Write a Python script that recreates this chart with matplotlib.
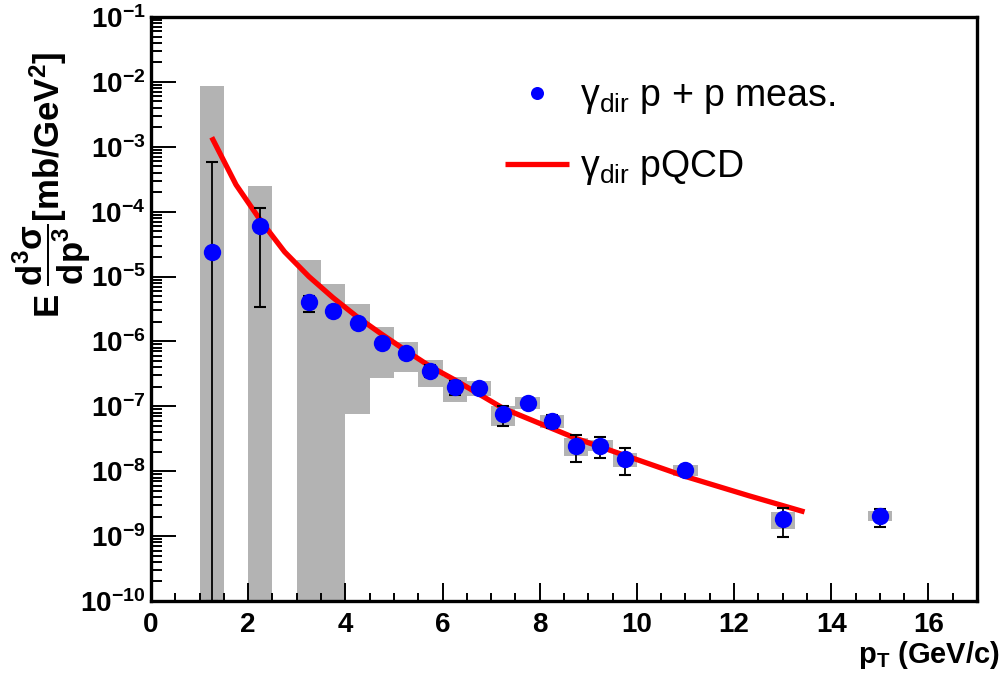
import numpy as np
import matplotlib
matplotlib.use('Agg')
import matplotlib.pyplot as plt
from matplotlib.ticker import MultipleLocator, LogLocator, FuncFormatter, NullFormatter, FixedLocator

# ---------------- data ----------------
pt = [1.25, 2.25, 3.25, 3.75, 4.25, 4.75, 5.25, 5.75, 6.25, 6.75,
      7.25, 7.75, 8.25, 8.75, 9.25, 9.75, 11.0, 13.0, 15.0]
yield_meas = [2.4e-5, 6.0e-5, 4.0e-6, 2.95e-6, 1.9e-6, 9.3e-7, 6.6e-7, 3.5e-7, 1.96e-7, 1.95e-7,
              7.6e-8, 1.14e-7, 5.95e-8, 2.45e-8, 2.48e-8, 1.55e-8, 1.03e-8, 1.84e-9, 2.03e-9]
stat_hi = [5.9e-4, 1.15e-4, 5.1e-6, 3.2e-6, 2.1e-6, 1.0e-6, 7.2e-7, 4.4e-7, 2.5e-7, 2.2e-7,
           1.0e-7, 1.3e-7, 7.3e-8, 3.6e-8, 3.4e-8, 2.24e-8, 1.15e-8, 2.7e-9, 2.65e-9]
stat_lo = [1e-10, 3.4e-6, 2.8e-6, 2.7e-6, 1.7e-6, 8.5e-7, 6.0e-7, 2.84e-7, 1.48e-7, 1.7e-7,
           5.0e-8, 1.0e-7, 4.6e-8, 1.39e-8, 1.62e-8, 8.9e-9, 9.2e-9, 9.8e-10, 1.4e-9]
sys_lo = [1e-10, 1e-10, 1e-10, 1e-10, 7.5e-8, 2.7e-7, 3.4e-7, 2.0e-7, 1.17e-7, 1.46e-7,
          4.9e-8, 9.2e-8, 4.7e-8, 1.74e-8, 2.04e-8, 1.17e-8, 8.3e-9, 1.3e-9, 1.74e-9]
sys_hi = [8.7e-3, 2.5e-4, 1.8e-5, 7.7e-6, 3.8e-6, 1.67e-6, 9.8e-7, 5.2e-7, 2.8e-7, 2.45e-7,
          1.03e-7, 1.4e-7, 7.4e-8, 3.2e-8, 3.0e-8, 1.9e-8, 1.26e-8, 2.36e-9, 2.45e-9]

curve_pt = [1.25, 1.75, 2.25, 2.75, 3.25, 3.75, 4.25, 4.75, 5.25, 5.75, 6.25,
            7.25, 8.75, 11.0, 12.3, 13.45]
curve_val = [1.40e-3, 2.6e-4, 7.4e-5, 2.4e-5, 1.0e-5, 4.7e-6, 2.37e-6, 1.29e-6, 7.2e-7, 4.1e-7, 2.56e-7,
             9.3e-8, 3.2e-8, 8.3e-9, 4.2e-9, 2.36e-9]

x_ticks = [0, 2, 4, 6, 8, 10, 12, 14, 16]
y_exps = [-10, -9, -8, -7, -6, -5, -4, -3, -2, -1]

label_meas = r'$\mathrm{\gamma_{dir}}$ p + p meas.'
label_qcd = r'$\mathrm{\gamma_{dir}}$ pQCD'

# ---------------- style ----------------
plt.rcParams['font.family'] = ['Liberation Sans', 'DejaVu Sans']
plt.rcParams['mathtext.fontset'] = 'custom'
plt.rcParams['mathtext.rm'] = 'Liberation Sans'
plt.rcParams['mathtext.it'] = 'Liberation Sans:italic'
plt.rcParams['mathtext.bf'] = 'Liberation Sans:bold'
plt.rcParams['mathtext.default'] = 'rm'

fig = plt.figure(figsize=(10.05, 6.75), dpi=100)
ax = fig.add_axes([151 / 1005, 1 - 601 / 675, (977 - 151) / 1005, (601 - 17) / 675])
ax.set_yscale('log')
ax.set_xlim(0, 17)
ax.set_ylim(1e-10, 1e-1)

sys_lo_a = np.array(sys_lo)
sys_hi_a = np.array(sys_hi)
ax.bar(pt, sys_hi_a - sys_lo_a, bottom=sys_lo_a, width=0.5, color='#b3b3b3',
       linewidth=0, zorder=1)

line_qcd, = ax.plot(curve_pt, curve_val, color='#ff0000', lw=3.8, zorder=2,
                    solid_capstyle='butt')

y_a = np.array(yield_meas)
ax.errorbar(pt, y_a, yerr=[y_a - np.array(stat_lo), np.array(stat_hi) - y_a],
            fmt='none', ecolor='black', elinewidth=1.3, capsize=4, capthick=1.5, zorder=3)
pts, = ax.plot(pt, y_a, 'o', color='#0000ff', ms=12.5, mec='none', zorder=4)

# axes styling
for s in ax.spines.values():
    s.set_linewidth(2.4)
ax.xaxis.set_major_locator(FixedLocator(x_ticks))
ax.xaxis.set_minor_locator(MultipleLocator(0.5))
ax.yaxis.set_major_locator(FixedLocator([10.0 ** e for e in y_exps]))
ax.yaxis.set_minor_locator(LogLocator(base=10, subs=np.arange(2, 10), numticks=30))
ax.yaxis.set_minor_formatter(NullFormatter())
ax.yaxis.set_major_formatter(FuncFormatter(lambda v, p: r'$\mathbf{10^{%d}}$' % int(round(np.log10(v)))))
ax.xaxis.set_major_formatter(FuncFormatter(lambda v, p: '%d' % v))
ax.tick_params(axis='both', which='both', direction='in', top=False, right=False,
               width=1.4, colors='black')
ax.tick_params(axis='y', which='major', length=18, labelsize=20, pad=4)
ax.tick_params(axis='y', which='minor', length=8)
ax.tick_params(axis='x', which='major', length=13, labelsize=20, pad=8)
ax.tick_params(axis='x', which='minor', length=6)
for lab in ax.get_xticklabels():
    lab.set_fontweight('bold')

# axis titles
fig.text(1000 / 1005, 1 - 655 / 675, r'$\mathbf{p}_{\mathbf{T}}$ (GeV/c)', ha='right', va='center',
         fontsize=21, fontweight='bold')
fig.text(52 / 1005, 1 - 185 / 675,
         r'$\mathbf{E\ \dfrac{d^{3}\sigma}{dp^{3}}}$[mb/GeV$^{\mathbf{2}}$]',
         rotation=90, ha='center', va='center', fontsize=25, fontweight='bold')

# legend
leg = ax.legend([pts, line_qcd], [label_meas, label_qcd], loc='upper left',
                bbox_to_anchor=((505 - 151) / 826, 1 - (78 - 17) / 584),
                frameon=False, fontsize=27, handlelength=1.7, handletextpad=0.3,
                labelspacing=0.85, borderaxespad=0, borderpad=0, markerscale=0.75)

fig.savefig('out.png', dpi=100)
